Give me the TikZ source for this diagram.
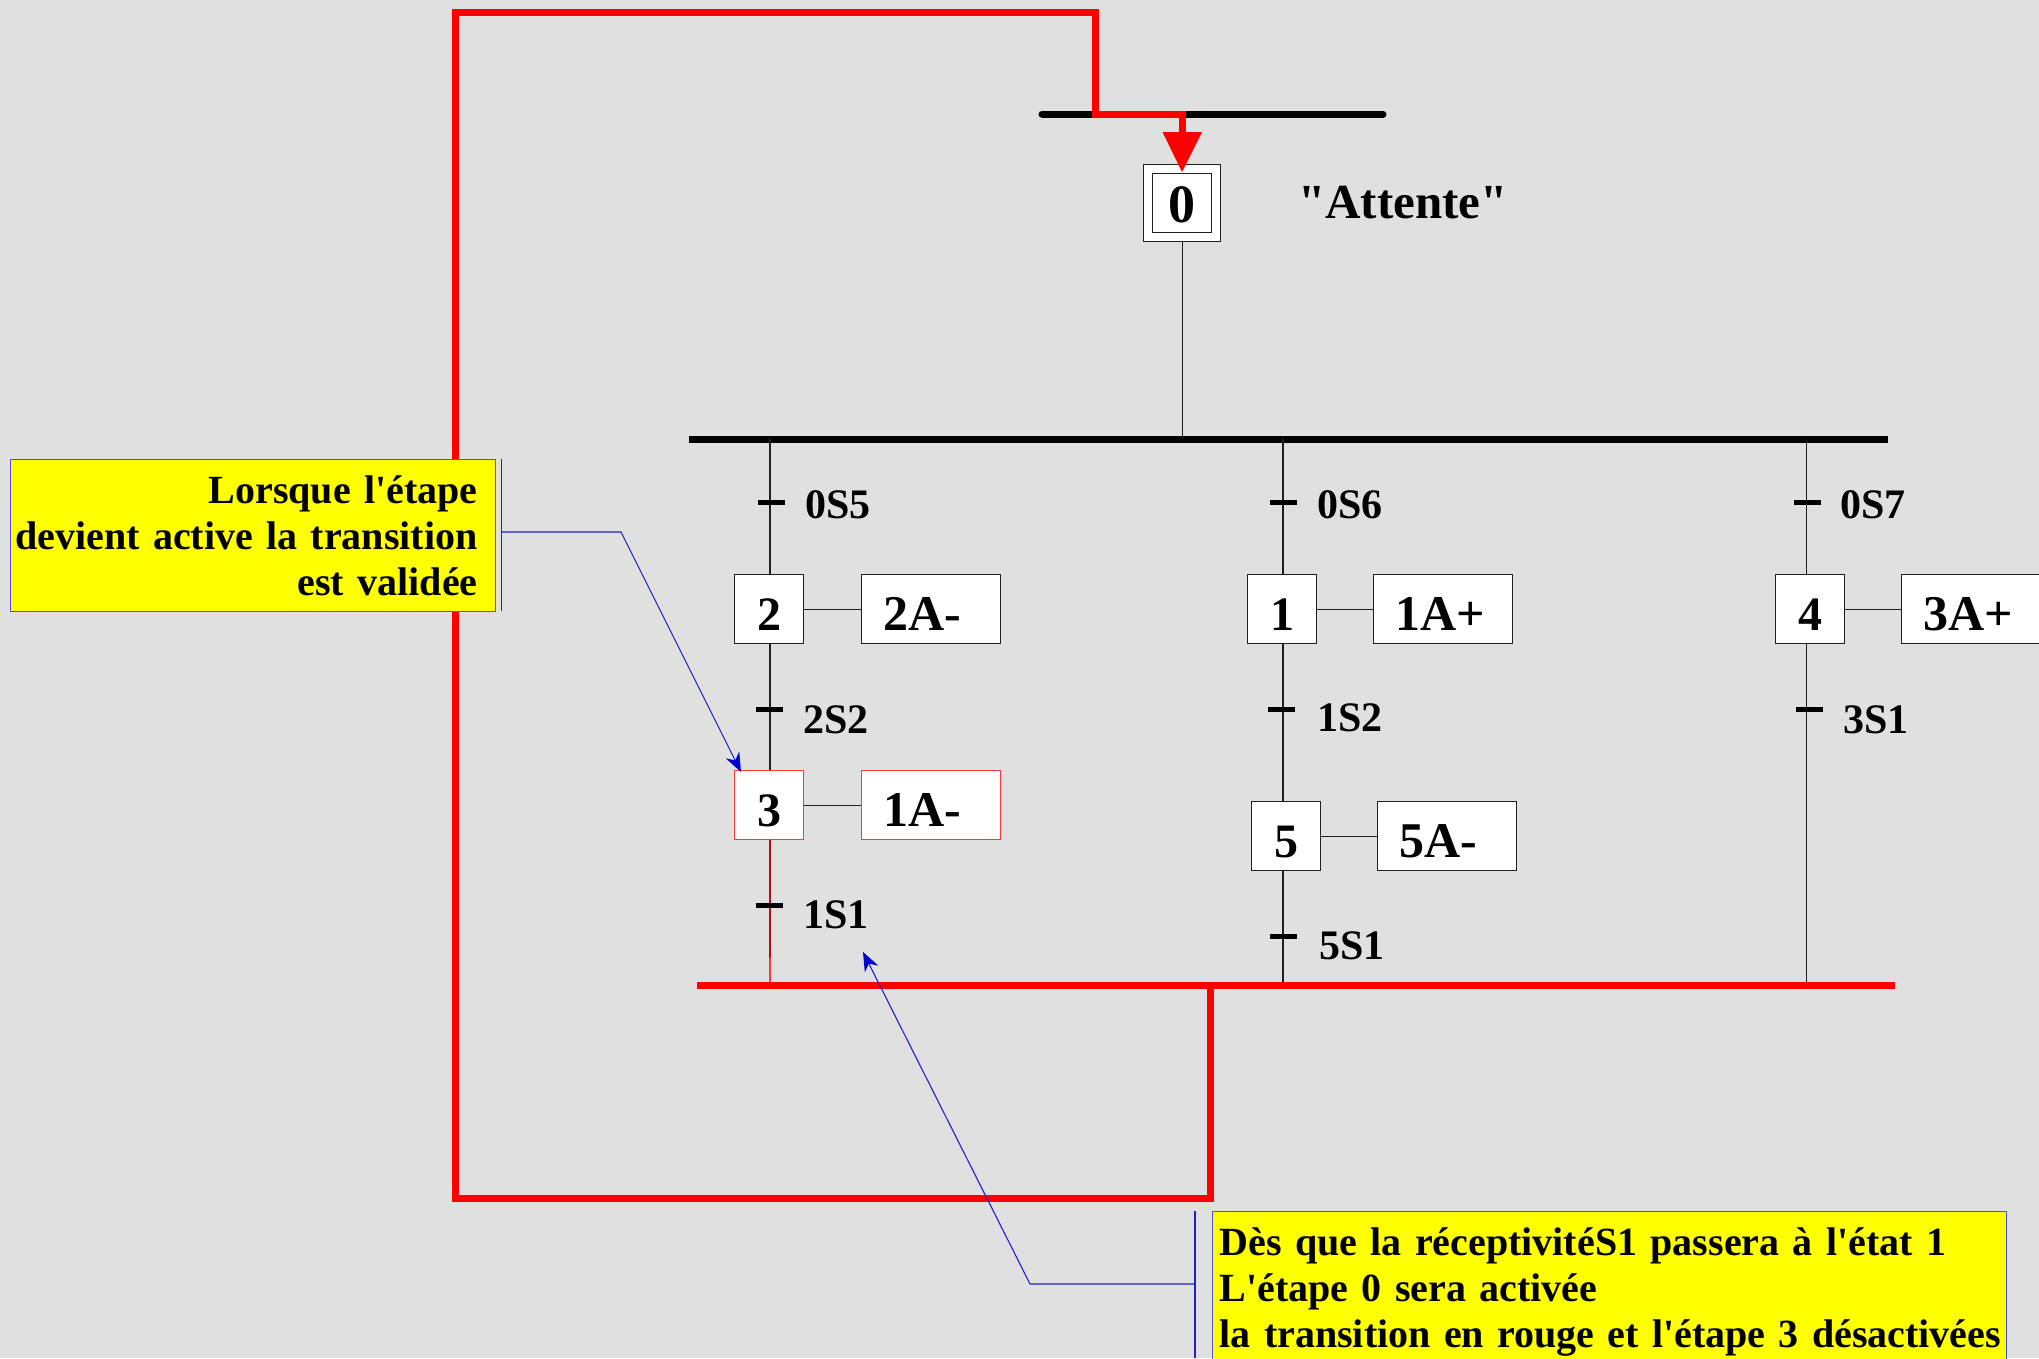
\documentclass[tikz,border=0pt]{standalone}
\usepackage{fontspec}
\setmainfont[Ligatures=TeXOff,WordSpace=0.77]{Liberation Serif}
\usetikzlibrary{arrows.meta}
\newcommand{\fsz}[1]{\fontsize{#1}{#1}\selectfont\bfseries}
\definecolor{bgc}{HTML}{E0E0E0}
\definecolor{edgec}{HTML}{202020}
\definecolor{redc}{HTML}{FF0000}
\definecolor{lredc}{HTML}{FF3838}
\definecolor{dredc}{HTML}{B81010}
\definecolor{bluec}{HTML}{2020C8}
\definecolor{nblue}{HTML}{5050D8}
\definecolor{yellowc}{HTML}{FFFF00}
\tikzset{
  x=1pt,y=-1pt,
  stepbox/.style={draw=edgec,fill=white,line width=1.3pt,inner sep=0pt,minimum width=69pt,minimum height=69pt,
    font=\fsz{48},text height=43pt,text depth=0pt,anchor=north west},
  actbox/.style={draw=edgec,fill=white,line width=1.3pt,inner ysep=0pt,inner xsep=22pt,text width=95pt,minimum height=69pt,
    align=left,font=\fsz{50},text height=43pt,text depth=0pt,anchor=north west},
  redbox/.style={draw=lredc},
  tickmark/.style={fill=black,inner sep=0pt,minimum width=27pt,minimum height=5pt},
  translabel/.style={font=\fsz{42},inner sep=0pt,anchor=base west},
  wire/.style={line width=1.3pt,draw=edgec},
  heavy/.style={line width=7pt,draw=black},
  redbar/.style={line width=7pt,draw=redc,line cap=butt,line join=miter},
  note/.style={draw=nblue,fill=yellowc,line width=1.2pt,inner sep=0pt,anchor=north west},
  leader/.style={line width=1.1pt,draw=bluec,-{Stealth[length=19pt,width=15pt,inset=6pt,color=blue!80!black]}},
  side/.style={line width=1.1pt,draw=bluec},
}
\begin{document}
\begin{tikzpicture}
\clip (0,0) rectangle (2039,1358);
\fill[bgc] (0,0) rectangle (2039,1358);

% coordinates
\coordinate (topL) at (1042,114);
\coordinate (topR) at (1383,114);
\coordinate (barL) at (689,439);
\coordinate (barR) at (1888,439);
\coordinate (botL) at (697,985.5);
\coordinate (botR) at (1895,985.5);
\coordinate (tA) at (770,439);
\coordinate (tB) at (1283,439);
\coordinate (tC) at (1806.5,439);
\coordinate (bA) at (770,985.5);
\coordinate (bB) at (1283,985.5);
\coordinate (bC) at (1806.5,985.5);
\coordinate (tZ) at (1182.5,439);
\coordinate (mA) at (770,958);

% red loop, under the notes
\coordinate (r1) at (1210.7,985.5);
\coordinate (r2) at (1210.7,1198);
\coordinate (r3) at (455,1198);
\coordinate (r4) at (455,12);
\coordinate (r5) at (1095,12);
\coordinate (r6) at (1095,114);
\coordinate (r7) at (1182,114);
\coordinate (r8) at (1182,172);

% bars
\draw[heavy,line cap=round] (topL) -- (topR);
\draw[heavy] (barL) -- (barR);

% steps
\node[stepbox,minimum width=77pt,minimum height=77pt,text height=0pt] (s0o) at (1143,164) {};
\node[stepbox,minimum width=59pt,minimum height=59pt,font=\fsz{54},text height=38pt] (s0) at (1152,173) {0};
\node[stepbox] (s2) at (734,574) {2};
\node[actbox] (a2) at (861,574) {2A-};
\node[stepbox,redbox] (s3) at (734,770) {3};
\node[actbox,redbox] (a3) at (861,770) {1A-};
\node[stepbox] (s1) at (1247,574) {1};
\node[actbox] (a1) at (1373,574) {1A+};
\node[stepbox] (s5) at (1251,801) {5};
\node[actbox] (a5) at (1377,801) {5A-};
\node[stepbox] (s4) at (1775,574) {4};
\node[actbox] (a4) at (1901,574) {3A+};

% wires
\draw[wire] (s0o.south -| tZ) -- (tZ);
\draw[wire] (tA) -- (s2.north -| tA);
\draw[wire] (s2.south -| tA) -- (s3.north -| tA);
\draw[dredc,line width=1.3pt] (s3.south -| tA) -- (mA);
\draw[lredc,line width=1.3pt] (mA) -- (bA);
\draw[wire] (tB) -- (s1.north -| tB);
\draw[wire] (s1.south -| tB) -- (s5.north -| tB);
\draw[wire] (s5.south -| tB) -- (bB);
\draw[wire] (tC) -- (s4.north -| tC);
\draw[wire] (s4.south -| tC) -- (bC);
\draw[wire] (s2.east) -- (a2.west);
\draw[wire] (s3.east) -- (a3.west);
\draw[wire] (s1.east) -- (a1.west);
\draw[wire] (s5.east) -- (a5.west);
\draw[wire] (s4.east) -- (a4.west);

% transitions
\node[tickmark] (t1) at (771,502.5) {};
\node[tickmark] (t2) at (769,709.5) {};
\node[tickmark] (t3) at (769,905) {};
\node[tickmark] (t4) at (1283.5,502.5) {};
\node[tickmark] (t5) at (1281.5,709.5) {};
\node[tickmark] (t6) at (1283.5,936) {};
\node[tickmark] (t7) at (1807,502.5) {};
\node[tickmark] (t8) at (1809,709.5) {};
\node[translabel] (l1) at (805,518) {0S5};
\node[translabel] (l2) at (803,733) {2S2};
\node[translabel] (l3) at (803,928) {1S1};
\node[translabel] (l4) at (1317,518) {0S6};
\node[translabel] (l5) at (1317,731) {1S2};
\node[translabel] (l6) at (1319,959) {5S1};
\node[translabel] (l7) at (1840,518) {0S7};
\node[translabel] (l8) at (1843,733) {3S1};

\node[font=\fsz{49},inner sep=0pt,anchor=base west] (att) at (1298,218) {"Attente"};

% red path
\draw[redbar] (botL) -- (botR);
\draw[redbar] (r1) -- (r2) -- (r3) -- (r4) -- (r5) -- (r6) -- (r7) -- (1182,132);
\draw[draw=none,fill=redc] (1162.5,132) -- (1202,132) -- (r8) -- cycle;

% notes
\node[note,font=\fontsize{40}{46}\selectfont\bfseries,align=right,text width=485.5pt] (n1) at (9.5,459)
 {\rule{0pt}{44pt}Lorsque l'étape\rule{18pt}{0pt}\\devient active la transition\rule{18pt}{0pt}\\\rule[-16pt]{0pt}{16pt}est validée\rule{18pt}{0pt}};
\node[note,font=\fontsize{40}{46}\selectfont\bfseries,align=left,text width=786pt,inner xsep=4pt] (n2) at (1212,1211)
 {\rule{0pt}{44pt}\hspace*{3pt}Dès que la réceptivitéS1 passera à l'état 1\\\hspace*{3pt}L'étape 0 sera activée\\\rule[-40pt]{0pt}{40pt}\hspace*{3pt}la transition en rouge et l'étape 3 désactivées};

% leaders
\coordinate (c1a) at (501.5,459);
\coordinate (c1b) at (501.5,611);
\coordinate (c1m) at (501.5,532);
\coordinate (c1k) at (621,532);
\coordinate (c1e) at (741,772);
\draw[side] (c1a) -- (c1b);
\draw[leader] (c1m) -- (c1k) -- (c1e);
\coordinate (c2a) at (1195,1211);
\coordinate (c2b) at (1195,1358);
\coordinate (c2m) at (1195,1284);
\coordinate (c2k) at (1030,1284);
\coordinate (c2e) at (863,952);
\draw[side] (c2a) -- (c2b);
\draw[leader] (c2m) -- (c2k) -- (c2e);
\end{tikzpicture}
\end{document}
